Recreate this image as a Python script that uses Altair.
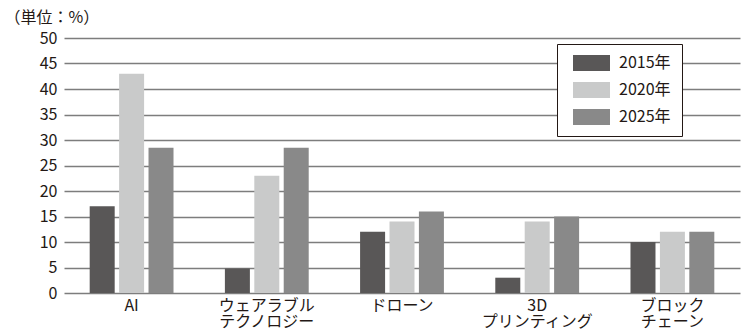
import altair as alt
import pandas as pd

categories = ["AI", "ウェアラブル\nテクノロジー", "ドローン", "3D\nプリンティング", "ブロック\nチェーン"]
years = ["2015年", "2020年", "2025年"]
v2015 = [17, 4.8, 12, 3, 10]
v2020 = [43, 23, 14, 14, 12]
v2025 = [28.5, 28.5, 16, 15, 12]
colors = ["#595757", "#c9caca", "#898989"]
y_ticks = [0, 5, 10, 15, 20, 25, 30, 35, 40, 45, 50]

rows = []
for yr, vals in zip(years, [v2015, v2020, v2025]):
    for c, v in zip(categories, vals):
        rows.append({"category": c, "year": yr, "value": v})
df = pd.DataFrame(rows)

FONT = "Noto Sans CJK JP"
TXT = "#231815"

chart = alt.Chart(df).mark_bar().encode(
    x=alt.X("category:N", sort=categories,
            scale=alt.Scale(paddingInner=0.38, paddingOuter=0.19),
            axis=alt.Axis(title=None, labelAngle=0, domain=False, ticks=False,
                          labelExpr="split(datum.label, '\\n')",
                          labelFont=FONT, labelFontSize=16, labelColor=TXT,
                          labelPadding=4, labelLineHeight=16, labelBaseline="top")),
    xOffset=alt.XOffset("year:N", sort=years, scale=alt.Scale(paddingInner=0.15)),
    y=alt.Y("value:Q", scale=alt.Scale(domain=[0, 50], nice=False),
            axis=alt.Axis(values=y_ticks, title="（単位：%）", titleAngle=0,
                          titleX=-60, titleY=-21, titleAlign="left", titleBaseline="middle",
                          titleFont=FONT, titleFontSize=16, titleFontWeight="normal", titleColor=TXT,
                          domain=False, ticks=False, labelPadding=7,
                          labelFont=FONT, labelFontSize=16, labelColor=TXT,
                          grid=True, gridColor="#7d7d7d", gridWidth=1.6)),
    color=alt.Color("year:N", sort=years,
                    scale=alt.Scale(domain=years, range=colors),
                    legend=alt.Legend(title=None, orient="none", legendX=493, legendY=6,
                                      strokeColor=TXT, fillColor="white", padding=11,
                                      symbolType="M-1,-0.43H1V0.43H-1Z", symbolSize=1369,
                                      symbolStrokeWidth=0, symbolOpacity=1, clipHeight=16,
                                      symbolOffset=5,
                                      rowPadding=11, labelOffset=9,
                                      labelExpr="datum.label + '\u3000'",
                                      labelFont=FONT, labelFontSize=16, labelColor=TXT)),
).properties(
    width=676, height=255,
    autosize=alt.AutoSizeParams(type="none"),
    padding={"left": 64, "top": 38, "right": 2, "bottom": 43},
).configure_view(stroke=None)

chart.save("out.html", embed_options={"renderer": "svg", "actions": False})
